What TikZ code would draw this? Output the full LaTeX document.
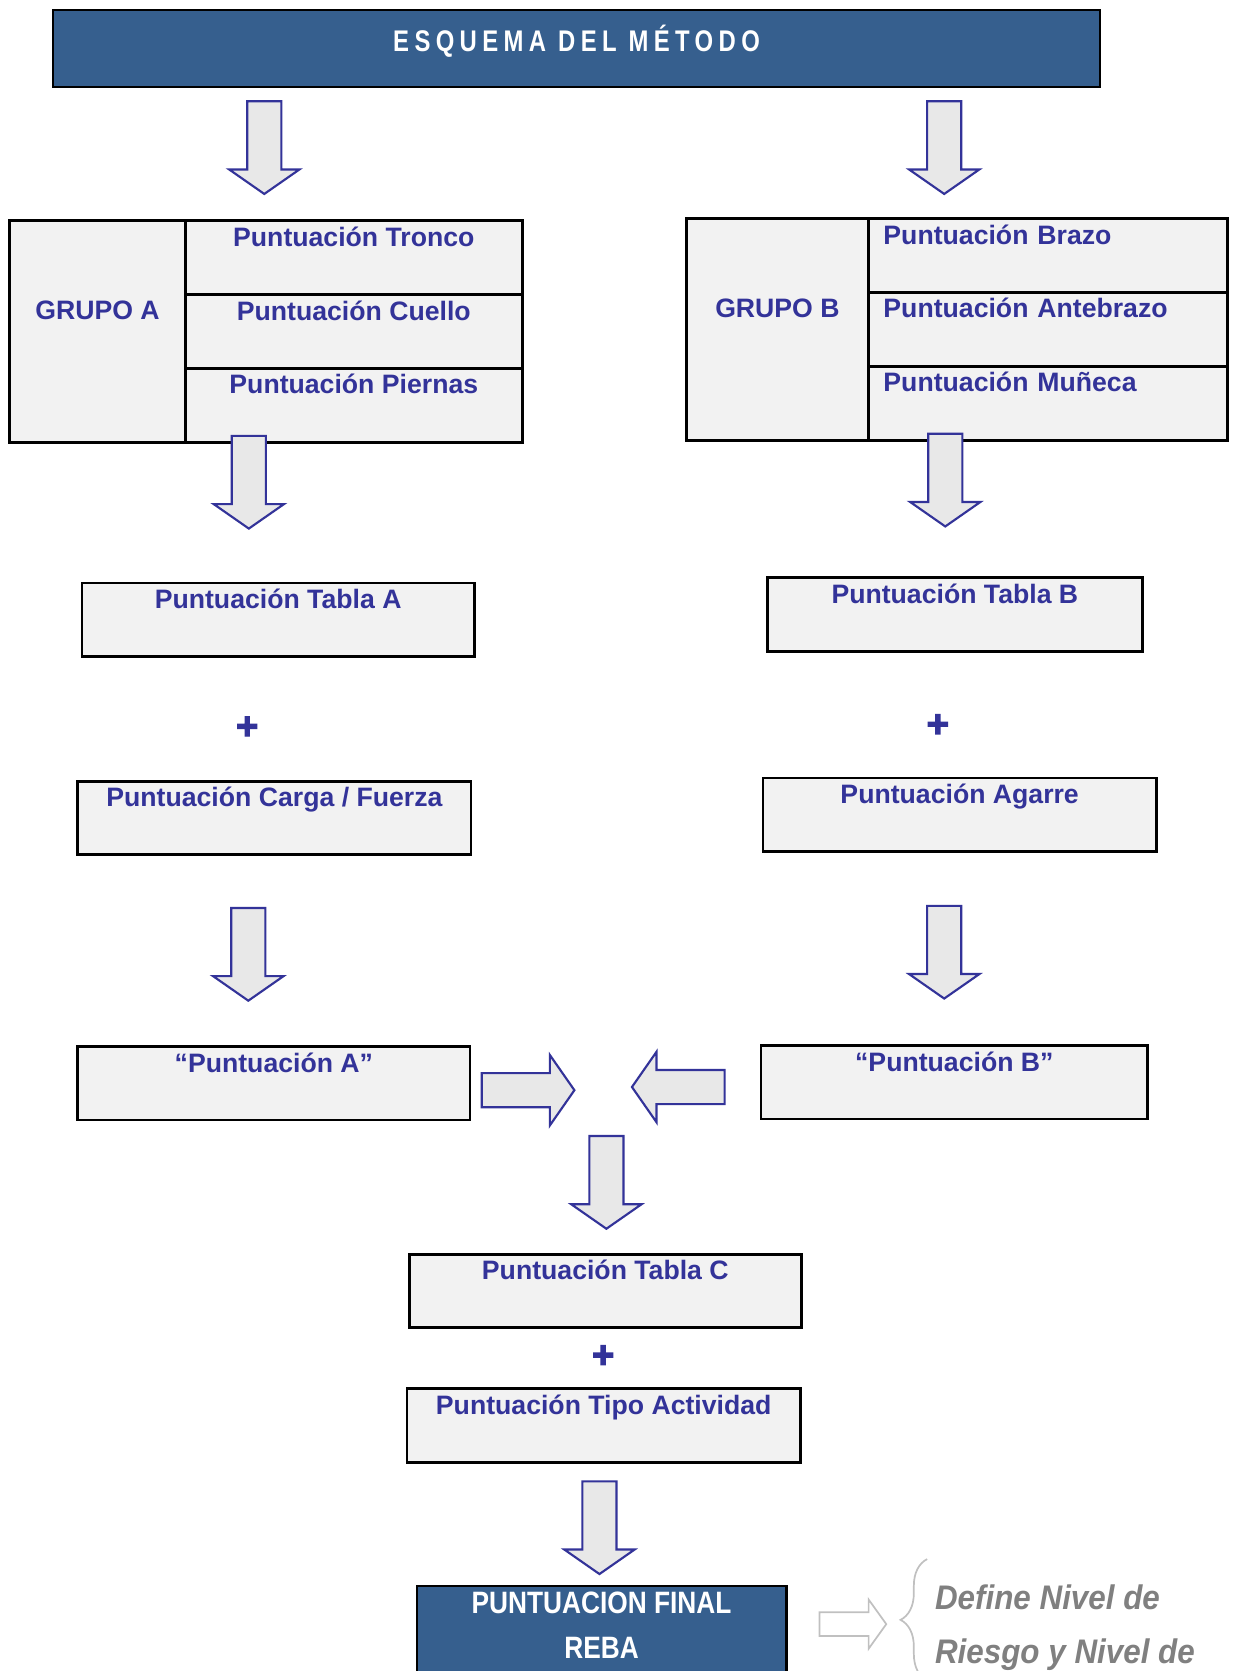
\documentclass[tikz,border=0pt]{standalone}
\usepackage{fontspec}
\setmainfont{Liberation Sans}
\newfontfamily\titlefont[FakeStretch=0.8,LetterSpace=18]{Liberation Sans}
\newfontfamily\narrowfont[FakeStretch=0.85]{Liberation Sans}
\newfontfamily\notefont[FakeStretch=0.92]{Liberation Sans}
\newfontfamily\plusfont[FakeBold=3]{Liberation Sans}
\usetikzlibrary{positioning,decorations.pathreplacing}

\definecolor{rebablue}{HTML}{365F8E}
\definecolor{scoreblue}{HTML}{333399}
\definecolor{cellgray}{HTML}{F2F2F2}
\definecolor{arrowgray}{HTML}{E8E8E8}
\definecolor{notegray}{HTML}{808080}
\definecolor{palegray}{HTML}{C0C0C0}

\tikzset{
	cell/.style={draw=black, line width=1.3pt, fill=cellgray, inner sep=0pt, outer sep=0pt,
		text=scoreblue, font=\fontsize{12.5}{15}\selectfont\bfseries, text height=12pt},
	scorebox/.style={cell, minimum width=#1, text depth=22.5pt},
	groupcell/.style={cell, minimum width=#1, text height=46.5pt, text depth=57.5pt},
	partcell/.style={cell, minimum width=158pt, text depth=22.67pt},
	partcellB/.style={cell, inner xsep=7pt, text width=154.5pt, align=left, text depth=22.67pt},
	plus/.style={text=scoreblue, font=\plusfont\fontsize{18}{18}\selectfont\bfseries, inner sep=0pt},
	bigarrow/.style={draw=scoreblue, fill=arrowgray, line width=1pt},
	palearrow/.style={draw=palegray, fill=white, line width=0.8pt},
	blockarrow/.pic={
		\draw[pic actions] (0,-16) -- (64,-16) -- (64,-33) -- (87,0) -- (64,33) -- (64,16) -- (0,16) -- cycle;
	}
}

\begin{document}
\begin{tikzpicture}[x=0.5pt, y=-0.5pt]
	\useasboundingbox (0,0) rectangle (1161,1568);
	\clip (0,0) rectangle (1161,1568);

	\node[draw=black, line width=1pt, fill=rebablue, text=white, inner sep=0pt,
		minimum width=491pt, text height=19.5pt, text depth=17pt,
		font=\titlefont\fontsize{14}{16}\selectfont\bfseries] (title) at (541,45.5) {ESQUEMA DEL MÉTODO};

	\pic[bigarrow, rotate=-90] at (248,95) {blockarrow};
	\pic[bigarrow, rotate=-90] at (886,95) {blockarrow};

	% grupo A
	\node[groupcell=82.5pt, anchor=north west] (grpA) at (9,207) {GRUPO A};
	\node[partcell, anchor=north west] (tronco) at (grpA.north east) {Puntuación Tronco};
	\node[partcell, below=0pt of tronco] (cuello) {Puntuación Cuello};
	\node[partcell, below=0pt of cuello] (piernas) {Puntuación Piernas};

	% grupo B
	\node[groupcell=85.5pt, anchor=north west] (grpB) at (644,205) {GRUPO B};
	\node[partcellB, anchor=north west] (brazo) at (grpB.north east) {Puntuación Brazo};
	\node[partcellB, below=0pt of brazo] (antebrazo) {Puntuación Antebrazo};
	\node[partcellB, below=0pt of antebrazo] (muneca) {Puntuación Muñeca};

	\pic[bigarrow, rotate=-90] at (233.5,409) {blockarrow};
	\pic[bigarrow, rotate=-90] at (887,407) {blockarrow};

	\node[scorebox=184pt] (tablaA) at (261,581.5) {Puntuación Tabla A};
	\node[plus] (plusA) at (232,683) {+};
	\node[scorebox=184.5pt] (carga) at (257.5,767.5) {Puntuación Carga / Fuerza};

	\node[scorebox=176pt] (tablaB) at (896,576.5) {Puntuación Tabla B};
	\node[plus] (plusB) at (880,681) {+};
	\node[scorebox=184.5pt] (agarre) at (900.5,764.5) {Puntuación Agarre};

	\pic[bigarrow, rotate=-90] at (233,852) {blockarrow};
	\pic[bigarrow, rotate=-90] at (886,850) {blockarrow};

	\node[scorebox=184pt] (puntA) at (257,1016.5) {“Puntuación A”};
	\node[scorebox=181.5pt] (puntB) at (895.5,1015.5) {“Puntuación B”};

	\pic[bigarrow] at (452,1023) {blockarrow};
	\pic[bigarrow, rotate=180] at (680,1020) {blockarrow};
	\pic[bigarrow, rotate=-90] at (569,1066) {blockarrow};

	\node[scorebox=184pt] (tablaC) at (568,1211.5) {Puntuación Tabla C};
	\node[plus] (plusC) at (566,1273) {+};
	\node[scorebox=184.5pt] (actividad) at (566.5,1337.5) {Puntuación Tipo Actividad};

	\pic[bigarrow, rotate=-90] at (562.5,1390) {blockarrow};

	\node[draw=black, line width=1pt, fill=rebablue, text=white, anchor=north,
		minimum width=173.5pt, align=center, inner ysep=3pt, text depth=20pt,
		font=\narrowfont\fontsize{14.5}{17}\selectfont\bfseries] (final) at (564.5,1487) {PUNTUACION FINAL\\[4pt]REBA};

	\pic[palearrow, xscale=0.72, yscale=0.7] at (769,1524) {blockarrow};
	\draw[palegray, line width=0.8pt, decorate, decoration={brace, amplitude=12.5pt}] (870,1577) -- (870,1463);

	\node[anchor=base west, inner sep=0pt, text=notegray, font=\notefont\fontsize{16}{19}\selectfont\bfseries\itshape] (nivel1) at (877,1510) {Define Nivel de};
	\node[anchor=base west, inner sep=0pt, text=notegray, font=\notefont\fontsize{16}{19}\selectfont\bfseries\itshape] (nivel2) at (877,1561) {Riesgo y Nivel de};
\end{tikzpicture}
\end{document}
